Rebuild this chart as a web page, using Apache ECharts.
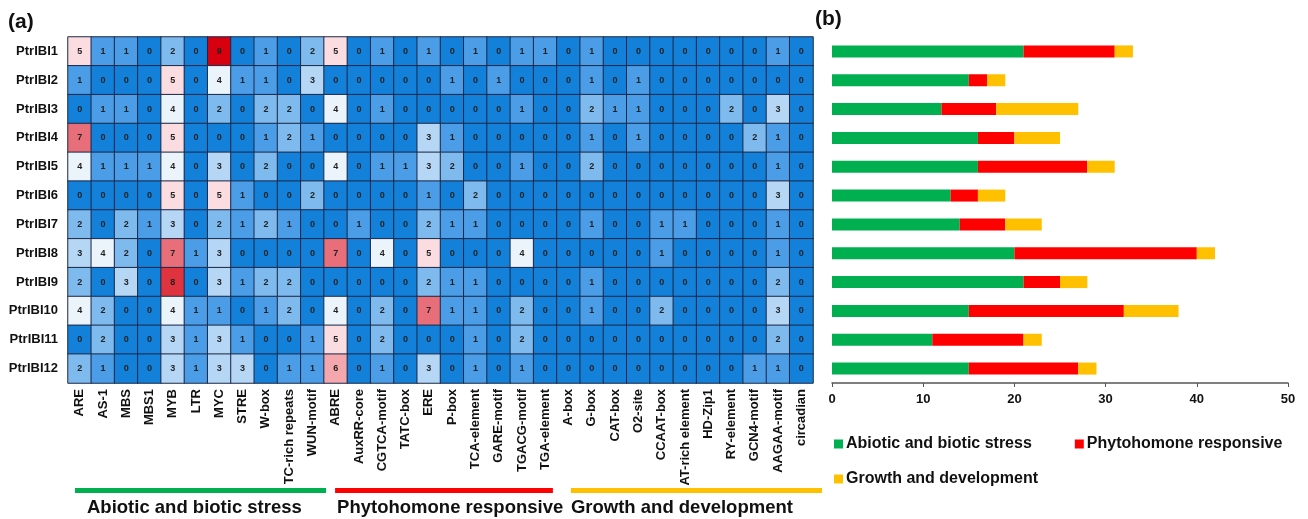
<!DOCTYPE html>
<html>
<head>
<meta charset="utf-8">
<script src="https://cdn.jsdelivr.net/npm/echarts@6/dist/echarts.min.js"></script>
<style>
  html, body { margin: 0; padding: 0; background: #ffffff; }
  #chart { width: 1308px; height: 519px; }
</style>
</head>
<body>
<div id="chart"></div>
<script>
// Promoter cis-element counts for the PtrIBI genes
const genes = ['PtrIBI1','PtrIBI2','PtrIBI3','PtrIBI4','PtrIBI5','PtrIBI6',
               'PtrIBI7','PtrIBI8','PtrIBI9','PtrIBI10','PtrIBI11','PtrIBI12'];

const elements = ['ARE','AS-1','MBS','MBS1','MYB','LTR','MYC','STRE','W-box','TC-rich repeats','WUN-motif',
                  'ABRE','AuxRR-core','CGTCA-motif','TATC-box','ERE','P-box','TCA-element','GARE-motif','TGACG-motif','TGA-element',
                  'A-box','G-box','CAT-box','O2-site','CCAAT-box','AT-rich element','HD-Zip1','RY-element','GCN4-motif','AAGAA-motif','circadian'];

// functional groups and how many consecutive elements belong to each
const groupNames = ['Abiotic and biotic stress', 'Phytohomone responsive', 'Growth and development'];
const groupSizes = [11, 10, 11];

// one row per gene, one value per element (same order as `elements`)
const counts = [
  [5,1,1,0,2,0,9,0,1,0,2, 5,0,1,0,1,0,1,0,1,1, 0,1,0,0,0,0,0,0,0,1,0],
  [1,0,0,0,5,0,4,1,1,0,3, 0,0,0,0,0,1,0,1,0,0, 0,1,0,1,0,0,0,0,0,0,0],
  [0,1,1,0,4,0,2,0,2,2,0, 4,0,1,0,0,0,0,0,1,0, 0,2,1,1,0,0,0,2,0,3,0],
  [7,0,0,0,5,0,0,0,1,2,1, 0,0,0,0,3,1,0,0,0,0, 0,1,0,1,0,0,0,0,2,1,0],
  [4,1,1,1,4,0,3,0,2,0,0, 4,0,1,1,3,2,0,0,1,0, 0,2,0,0,0,0,0,0,0,1,0],
  [0,0,0,0,5,0,5,1,0,0,2, 0,0,0,0,1,0,2,0,0,0, 0,0,0,0,0,0,0,0,0,3,0],
  [2,0,2,1,3,0,2,1,2,1,0, 0,1,0,0,2,1,1,0,0,0, 0,1,0,0,1,1,0,0,0,1,0],
  [3,4,2,0,7,1,3,0,0,0,0, 7,0,4,0,5,0,0,0,4,0, 0,0,0,0,1,0,0,0,0,1,0],
  [2,0,3,0,8,0,3,1,2,2,0, 0,0,0,0,2,1,1,0,0,0, 0,1,0,0,0,0,0,0,0,2,0],
  [4,2,0,0,4,1,1,0,1,2,0, 4,0,2,0,7,1,1,0,2,0, 0,1,0,0,2,0,0,0,0,3,0],
  [0,2,0,0,3,1,3,1,0,0,1, 5,0,2,0,0,0,1,0,2,0, 0,0,0,0,0,0,0,0,0,2,0],
  [2,1,0,0,3,1,3,3,0,1,1, 6,0,1,0,3,0,1,0,1,0, 0,0,0,0,0,0,0,0,1,1,0]
];

// per-gene totals for each functional group
const abioticTotals = [21,15,12,16,16,13,14,20,21,15,11,15];
const phytoTotals   = [10, 2, 6, 4,12, 3, 5,20, 4,17,10,12];
const growthTotals  = [ 2, 2, 9, 5, 3, 3, 4, 2, 3, 6, 2, 2];

const FONT = 'Liberation Sans, Arial, sans-serif';
const groupColors = ['#00B050', '#FF0000', '#FFC000'];
const scaleColors = ['#1380DA','#4A9DE6','#7FBAEE','#B5D6F4','#EBF3FB',
                     '#FBDDE1','#F4A7AD','#E86F79','#DF343F','#D6000F'];

const heatData = [];
counts.forEach((row, r) => row.forEach((v, c) => heatData.push([c, r, v])));

const chart = echarts.init(document.getElementById('chart'), null, { renderer: 'canvas' });

const legendText = { fontFamily: FONT, fontWeight: 'bold', fontSize: 16, color: '#111', padding: [0, 0, 0, -2] };

const option = {
  backgroundColor: '#ffffff',
  animation: false,
  textStyle: { fontFamily: FONT },
  grid: [
    { left: 68, right: 495, top: 37, bottom: 136 },
    { left: 832, right: 20, top: 37, bottom: 136 }
  ],
  xAxis: [
    {
      type: 'category', gridIndex: 0, data: elements, position: 'bottom',
      axisLine: { show: false }, axisTick: { show: false }, splitLine: { show: false },
      axisLabel: { rotate: 90, margin: 6, interval: 0, fontFamily: FONT, fontWeight: 'bold', fontSize: 13, color: '#111' }
    },
    {
      type: 'value', gridIndex: 1, min: 0, max: 50, interval: 10,
      splitLine: { show: false },
      axisLine: { show: true, lineStyle: { color: '#555', width: 1.5 } },
      axisTick: { show: true, length: 4, lineStyle: { color: '#555' } },
      axisLabel: { margin: 10, fontFamily: FONT, fontWeight: 'bold', fontSize: 13, color: '#111' }
    }
  ],
  yAxis: [
    {
      type: 'category', gridIndex: 0, data: genes, inverse: true,
      axisLine: { show: false }, axisTick: { show: false }, splitLine: { show: false },
      axisLabel: { margin: 10, fontFamily: FONT, fontWeight: 'bold', fontSize: 13, color: '#111' }
    },
    {
      type: 'category', gridIndex: 1, data: genes, inverse: true,
      axisLine: { show: false }, axisTick: { show: false }, axisLabel: { show: false }
    }
  ],
  visualMap: {
    type: 'piecewise', show: false, seriesIndex: 0, dimension: 2,
    pieces: scaleColors.map((col, i) => ({ value: i, color: col }))
  },
  legend: [
    {
      data: [groupNames[0], groupNames[1]], left: 829, top: 431, itemGap: 43,
      itemWidth: 9, itemHeight: 9, icon: 'rect', textStyle: legendText
    },
    {
      data: [groupNames[2]], left: 829, top: 466,
      itemWidth: 9, itemHeight: 9, icon: 'rect', textStyle: legendText
    }
  ],
  series: [
    {
      type: 'heatmap', xAxisIndex: 0, yAxisIndex: 0, data: heatData,
      itemStyle: { borderColor: '#1B2846', borderWidth: 1 },
      label: { show: true, formatter: p => p.value[2], fontFamily: FONT, fontWeight: 'bold', fontSize: 9, color: '#222' },
      emphasis: { disabled: true }
    },
    {
      name: groupNames[0], type: 'bar', stack: 'total', xAxisIndex: 1, yAxisIndex: 1,
      data: abioticTotals, barWidth: 12, itemStyle: { color: groupColors[0] }
    },
    {
      name: groupNames[1], type: 'bar', stack: 'total', xAxisIndex: 1, yAxisIndex: 1,
      data: phytoTotals, barWidth: 12, itemStyle: { color: groupColors[1] }
    },
    {
      name: groupNames[2], type: 'bar', stack: 'total', xAxisIndex: 1, yAxisIndex: 1,
      data: growthTotals, barWidth: 12, itemStyle: { color: groupColors[2] }
    }
  ]
};

chart.setOption(option);

// group bars and captions under the heatmap columns, placed from the category axis
const c0 = chart.convertToPixel({ xAxisIndex: 0 }, elements[0]);
const c1 = chart.convertToPixel({ xAxisIndex: 0 }, elements[1]);
const cellW = c1 - c0;
const lineInsets = [[7, -2], [11, 4], [14, -9]];
const captionIndent = [12, 2, 0];
const graphics = [
  { type: 'text', left: 8, top: 12, style: { text: '(a)', font: 'bold 21px ' + FONT, fill: '#111' } },
  { type: 'text', left: 815, top: 9, style: { text: '(b)', font: 'bold 21px ' + FONT, fill: '#111' } }
];
let startIdx = 0;
groupSizes.forEach((n, g) => {
  const x0 = chart.convertToPixel({ xAxisIndex: 0 }, elements[startIdx]) - cellW / 2 + lineInsets[g][0];
  const x1 = chart.convertToPixel({ xAxisIndex: 0 }, elements[startIdx + n - 1]) + cellW / 2 - lineInsets[g][1];
  graphics.push({
    type: 'rect', shape: { x: x0, y: 488, width: x1 - x0, height: 5 },
    style: { fill: groupColors[g] }, silent: true
  });
  graphics.push({
    type: 'text', x: x0 + captionIndent[g], y: 508, silent: true,
    style: { text: groupNames[g], font: 'bold 18.5px ' + FONT, fill: '#111', align: 'left', verticalAlign: 'middle' }
  });
  startIdx += n;
});
chart.setOption({ graphic: graphics });
</script>
</body>
</html>
